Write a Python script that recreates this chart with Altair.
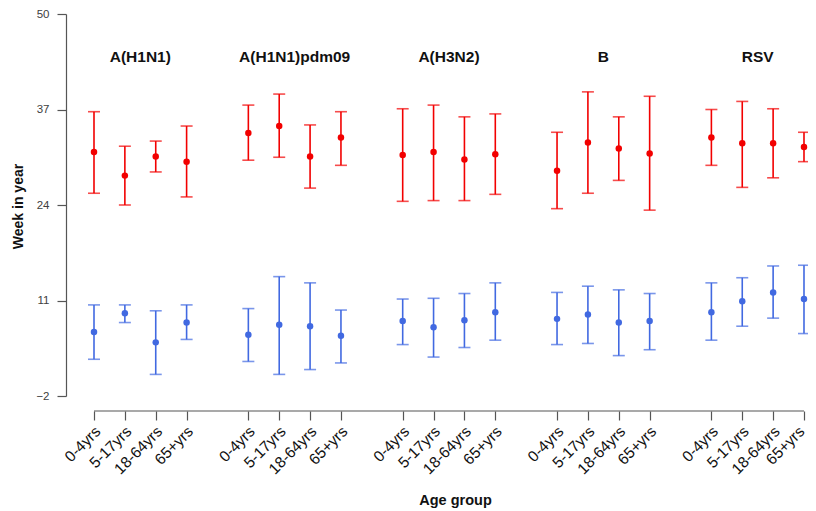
import altair as alt
import pandas as pd

groups = ["A(H1N1)", "A(H1N1)pdm09", "A(H3N2)", "B", "RSV"]
ages = ["0-4yrs", "5-17yrs", "18-64yrs", "65+yrs"]

# Red series (later peak): estimate, lower, upper
red_mid = [31.2, 28.0, 30.6, 29.9,  33.8, 34.75, 30.6, 33.2,  30.8, 31.2, 30.2, 30.9,  28.65, 32.5, 31.7, 31.0,  33.2, 32.4, 32.4, 31.9]
red_lo  = [25.6, 24.0, 28.5, 25.1,  30.1, 30.5, 26.3, 29.4,  24.5, 24.6, 24.6, 25.45,  23.5, 25.6, 27.35, 23.3,  29.4, 26.4, 27.7, 29.9]
red_hi  = [36.7, 32.0, 32.7, 34.75, 37.6, 39.1, 34.9, 36.7,  37.1, 37.6, 36.0, 36.4,  33.9, 39.4, 36.0, 38.8,  37.0, 38.1, 37.1, 33.9]

# Blue series (earlier peak)
blue_mid = [6.7, 9.25, 5.3, 8.0,  6.35, 7.7, 7.5, 6.2,  8.2, 7.35, 8.3, 9.4,  8.5, 9.1, 8.0, 8.2,  9.4, 10.9, 12.1, 11.2]
blue_lo  = [3.0, 8.0, 0.94, 5.7,  2.7, 0.94, 1.6, 2.5,  5.0, 3.3, 4.6, 5.6,  5.0, 5.15, 3.5, 4.3,  5.6, 7.5, 8.6, 6.5]
blue_hi  = [10.4, 10.4, 9.6, 10.4, 9.9, 14.25, 13.4, 9.7, 11.2, 11.3, 11.95, 13.4, 12.1, 12.95, 12.45, 11.95, 13.4, 14.1, 15.7, 15.8]

y_ticks = [-2, 11, 24, 37, 50]
title_level = 44.1

RED = "#F20000"
BLUE = "#4169E1"

rows = []
positions = []
for gi, g in enumerate(groups):
    for ai, a in enumerate(ages):
        k = gi * 4 + ai
        pos = gi * 5 + ai
        positions.append(pos)
        rows.append(dict(group=g, age=a, pos=pos, series="late", mid=red_mid[k], lo=red_lo[k], hi=red_hi[k]))
        rows.append(dict(group=g, age=a, pos=pos, series="early", mid=blue_mid[k], lo=blue_lo[k], hi=blue_hi[k]))
df = pd.DataFrame(rows)

titles = pd.DataFrame({"group": groups,
                       "pos": [gi * 5 + 1.5 for gi in range(len(groups))],
                       "y": [title_level] * len(groups)})

W, H = 740, 382
xscale = alt.Scale(domain=[-0.907, 23.065], nice=False, zero=False, padding=0)
yscale = alt.Scale(domain=[-2, 50], nice=False, zero=False, padding=0)
color = alt.Color("series:N", scale=alt.Scale(domain=["late", "early"], range=[RED, BLUE]), legend=None)

label_expr = "['0-4yrs','5-17yrs','18-64yrs','65+yrs',''][datum.value % 5]"

xaxis = alt.Axis(values=positions, labelExpr=label_expr, domain=False, offset=15,
                 tickSize=9, tickColor="#555555", tickWidth=1.2, labelAngle=315,
                 labelAlign="right", labelBaseline="alphabetic", labelPadding=12,
                 labelOffset={"condition": {"test": f"datum.value == {positions[-1]}", "value": 1}, "value": 7},
                 labelOverlap=False, labelBound=False,
                 labelFontSize=15.5, labelFont="Liberation Sans", labelColor="#111111",
                 grid=False, title="Age group", titleFont="Liberation Sans",
                 titleFontSize=14.5, titleFontWeight="bold", titleColor="#111111",
                 titleX=389, titleY=93.5, titleBaseline="alphabetic", titleAlign="center")

yaxis = alt.Axis(values=y_ticks, domainColor="#555555", domainWidth=1.2, tickColor="#555555",
                 tickWidth=1.2, tickSize=9, labelPadding=8, labelFontSize=11.5,
                 labelFont="Liberation Sans", labelColor="#404040", grid=False,
                 title="Week in year", titleFont="Liberation Sans", titleFontSize=14,
                 titleFontWeight="bold", titleColor="#111111",
                 titleX=-43.5, titleY=192, titleBaseline="alphabetic", titleAlign="center", titleAngle=270)

X = alt.X("pos:Q", scale=xscale, axis=xaxis)
base = alt.Chart(df).encode(x=X, color=color)

bars = base.mark_rule(strokeWidth=1.6).encode(
    y=alt.Y("lo:Q", scale=yscale, axis=yaxis),
    y2="hi:Q",
)
caps_lo = base.mark_tick(size=12, thickness=1.6, orient="horizontal").encode(
    y=alt.Y("lo:Q", scale=yscale, axis=yaxis))
caps_hi = base.mark_tick(size=12, thickness=1.6, orient="horizontal").encode(
    y=alt.Y("hi:Q", scale=yscale, axis=yaxis))
points = base.mark_circle(size=42, opacity=1).encode(
    y=alt.Y("mid:Q", scale=yscale, axis=yaxis))

xline = alt.Chart(pd.DataFrame({"a": [positions[0]], "b": [positions[-1]]})).mark_rule(
    color="#555555", strokeWidth=1.2).encode(
    x=alt.X("a:Q", scale=xscale, axis=xaxis), x2="b:Q", y=alt.value(H + 15))

title_text = alt.Chart(titles).mark_text(font="Liberation Sans", fontSize=15.5,
                                         fontWeight="bold", color="#111111",
                                         baseline="middle").encode(
    x=alt.X("pos:Q", scale=xscale, axis=xaxis),
    y=alt.Y("y:Q", scale=yscale, axis=yaxis), text="group:N")

chart = alt.layer(bars, caps_lo, caps_hi, points, xline, title_text).properties(
    width=W, height=H,
    autosize=alt.AutoSizeParams(type="none"),
    padding={"left": 58, "top": 6, "right": 2, "bottom": 115},
).configure_view(stroke=None).configure_axis(labelOverlap=False)

chart.save("out.html", embed_options={"renderer": "svg", "actions": False})
